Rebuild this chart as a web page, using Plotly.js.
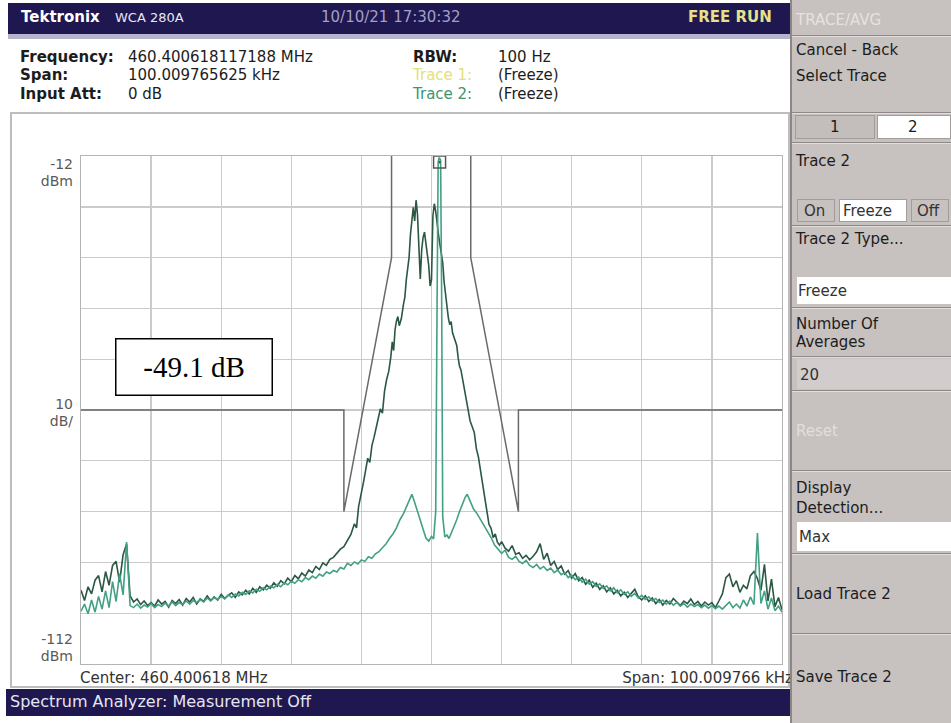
<!DOCTYPE html>
<html>
<head>
<meta charset="utf-8">
<script src="https://cdn.plot.ly/plotly-3.0.1.min.js"></script>
<style>
  html,body{margin:0;padding:0;background:#fff;}
  #wrap{position:relative;width:951px;height:723px;overflow:hidden;background:#fff;}
  .t{position:absolute;white-space:nowrap;font-family:'DejaVu Sans',sans-serif;font-size:15px;line-height:16px;color:#1c1c1c;}
  .b{font-weight:bold;}
  .box{position:absolute;box-sizing:border-box;}
  .sep{position:absolute;left:792px;width:159px;height:2px;border-top:1px solid #8e8888;border-bottom:1px solid #e2dede;box-sizing:border-box;}
  #plot{position:absolute;left:0;top:0;width:951px;height:723px;}
  .ax{position:absolute;right:878px;text-align:right;font-family:'DejaVu Sans',sans-serif;font-size:14px;line-height:15px;color:#5a5a5a;white-space:nowrap;}
</style>
</head>
<body>
<div id="wrap">
  <!-- header -->
  <div class="box" style="left:8px;top:3px;width:782px;height:31px;background:#1e1750;"></div>
  <div class="box" style="left:8px;top:34px;width:782px;height:5px;background:#b6b4ca;"></div>
  <div class="t b" style="left:21px;top:9px;color:#ffffff;font-size:15px;">Tektronix</div>
  <div class="t" style="left:115px;top:10px;color:#e8e8f4;font-size:13px;">WCA 280A</div>
  <div class="t" style="left:321px;top:9px;color:#a59fc6;">10/10/21 17:30:32</div>
  <div class="t b" style="left:688px;top:9px;color:#e6e28a;font-size:15px;">FREE RUN</div>

  <!-- info -->
  <div class="t b" style="left:20px;top:49px;">Frequency:</div>
  <div class="t" style="left:128px;top:49px;">460.400618117188 MHz</div>
  <div class="t b" style="left:20px;top:67px;">Span:</div>
  <div class="t" style="left:128px;top:67px;">100.009765625 kHz</div>
  <div class="t b" style="left:20px;top:86px;">Input Att:</div>
  <div class="t" style="left:128px;top:86px;">0 dB</div>
  <div class="t b" style="left:413px;top:49px;">RBW:</div>
  <div class="t" style="left:498px;top:49px;">100 Hz</div>
  <div class="t" style="left:413px;top:67px;color:#e4e07a;">Trace 1:</div>
  <div class="t" style="left:498px;top:67px;">(Freeze)</div>
  <div class="t" style="left:413px;top:86px;color:#3d9470;">Trace 2:</div>
  <div class="t" style="left:498px;top:86px;">(Freeze)</div>

  <!-- plot frame -->
  <div class="box" style="left:10px;top:112px;width:780px;height:576px;border:2px solid #bdbdbd;"></div>

  <!-- axis labels -->
  <div class="ax" style="top:157px;">-12</div>
  <div class="ax" style="top:174px;">dBm</div>
  <div class="ax" style="top:397px;">10</div>
  <div class="ax" style="top:414px;">dB/</div>
  <div class="ax" style="top:632px;">-112</div>
  <div class="ax" style="top:649px;">dBm</div>

  <div class="t" style="left:80px;top:670px;color:#333;">Center: 460.400618 MHz</div>
  <div class="t" style="right:158px;top:670px;color:#333;">Span: 100.009766 kHz</div>

  <!-- footer -->
  <div class="box" style="left:6px;top:689px;width:784px;height:27px;background:#1e1750;"></div>
  <div class="t" style="left:10px;top:694px;color:#e6e6f2;font-size:16px;">Spectrum Analyzer: Measurement Off</div>

  <!-- side panel -->
  <div class="box" style="left:790px;top:0px;width:161px;height:723px;background:#c7c1c0;border-left:2px solid #8c8686;"></div>
  <div class="t" style="left:796px;top:12px;color:#e6e1e1;">TRACE/AVG</div>
  <div class="sep" style="top:35px;"></div>
  <div class="t" style="left:796px;top:42px;">Cancel - Back</div>
  <div class="t" style="left:796px;top:68px;">Select Trace</div>
  <div class="sep" style="top:112px;"></div>
  <div class="box" style="left:795px;top:115px;width:80px;height:24px;background:#c3bdbc;border:1px solid #a29c9c;"></div>
  <div class="box" style="left:877px;top:115px;width:74px;height:24px;background:#ffffff;border:1px solid #a29c9c;"></div>
  <div class="t" style="left:830px;top:119px;">1</div>
  <div class="t" style="left:908px;top:119px;">2</div>
  <div class="sep" style="top:142px;"></div>
  <div class="t" style="left:796px;top:153px;">Trace 2</div>
  <div class="box" style="left:797px;top:199px;width:38px;height:23px;border:1px solid #a29c9c;"></div>
  <div class="box" style="left:839px;top:199px;width:68px;height:23px;background:#ffffff;border:1px solid #a29c9c;"></div>
  <div class="box" style="left:911px;top:199px;width:38px;height:23px;border:1px solid #a29c9c;"></div>
  <div class="t" style="left:804px;top:203px;color:#333;">On</div>
  <div class="t" style="left:843px;top:203px;color:#333;">Freeze</div>
  <div class="t" style="left:917px;top:203px;color:#333;">Off</div>
  <div class="sep" style="top:225px;"></div>
  <div class="t" style="left:796px;top:231px;">Trace 2 Type...</div>
  <div class="box" style="left:797px;top:277px;width:154px;height:27px;background:#ffffff;"></div>
  <div class="t" style="left:798px;top:283px;color:#333;">Freeze</div>
  <div class="sep" style="top:307px;"></div>
  <div class="t" style="left:796px;top:316px;">Number Of</div>
  <div class="t" style="left:796px;top:334px;">Averages</div>
  <div class="sep" style="top:356px;"></div>
  <div class="box" style="left:797px;top:359px;width:154px;height:30px;background:#d2cdcc;"></div>
  <div class="t" style="left:800px;top:367px;color:#333;">20</div>
  <div class="sep" style="top:390px;"></div>
  <div class="t" style="left:796px;top:423px;color:#e2dede;">Reset</div>
  <div class="sep" style="top:470px;"></div>
  <div class="t" style="left:796px;top:480px;">Display</div>
  <div class="t" style="left:796px;top:500px;">Detection...</div>
  <div class="box" style="left:797px;top:522px;width:154px;height:29px;background:#ffffff;"></div>
  <div class="t" style="left:799px;top:529px;color:#333;">Max</div>
  <div class="sep" style="top:553px;"></div>
  <div class="t" style="left:796px;top:586px;">Load Trace 2</div>
  <div class="sep" style="top:633px;"></div>
  <div class="t" style="left:796px;top:669px;">Save Trace 2</div>

  <div id="plot"></div>
</div>
<script>
// ---- data (frequency offset from 460.400618 MHz centre, kHz; level dBm) ----
const gridFreqTicks = [-50, -40, -30, -20, -10, 0, 10, 20, 30, 40, 50];
const levelTicks = [-112, -102, -92, -82, -72, -62, -52, -42, -32, -22, -12];

const trace1Freq = [
 -50,-49.5,-49,-48.5,-48,-47.5,-47,-46.5,-46,-45.5,-45,-44.5,-44,-43.5,-43,-42.5,-42,-41.5,-41,-40.5,
 -40,-39.5,-39,-38.5,-38,-37.5,-37,-36.5,-36,-35.5,-35,-34.5,-34,-33.5,-33,-32.5,-32,-31.5,-31,-30.5,
 -30,-29.5,-29,-28.5,-28,-27.5,-27,-26.5,-26,-25.5,-25,-24.5,-24,-23.5,-23,-22.5,-22,-21.5,-21,-20.5,
 -20,-19.5,-19,-18.5,-18,-17.5,-17,-16.5,-16,-15.5,-15,-14.5,
 -14,-13.5,-13,-12.5,-12,-11.5,-11,-10.7,-10.4,-10,-9.7,-9.4,-9.1,-8.8,-8.5,-8.2,-7.9,-7.6,-7.3,-7,
 -6.7,-6.4,-6.1,-5.8,-5.6,-5.4,-5.2,-5,-4.8,-4.6,-4.3,-4,-3.8,-3.6,-3.4,-3.2,-3,-2.8,-2.6,-2.4,
 -2.2,-2,-1.8,-1.6,-1.4,-1.2,-1,-0.8,-0.6,-0.4,-0.2,0,0.2,0.4,0.6,0.8,1,1.2,1.4,1.6,
 1.8,2,2.2,2.4,2.6,2.8,3,3.2,3.4,3.6,3.8,4,4.2,4.4,4.6,4.8,5,5.2,5.5,5.8,
 6.1,6.4,6.7,7,7.3,7.6,7.9,8.2,8.5,8.8,9.1,9.4,9.7,10,10.5,11,11.5,12,12.5,13,13.5,14,
 14.5,15,15.5,16,16.5,17,17.5,18,18.5,19,19.5,20,20.5,21,21.5,22,22.5,23,23.5,24,
 24.5,25,25.5,26,26.5,27,27.5,28,28.5,29,29.5,30,30.5,31,31.5,32,32.5,33,33.5,34,
 34.5,35,35.5,36,36.5,37,37.5,38,38.5,39,39.5,40,40.5,41,41.5,42,42.5,43,43.5,44,
 44.5,45,45.5,46,46.5,47,47.5,48,48.5,49,49.5,50];
const trace1Level = [
 -97.5,-99.5,-96.8,-98.2,-95.5,-94.6,-97.8,-93.8,-96.5,-92.6,-91.8,-95.9,-90.5,-88.4,-98.6,-99.8,-99.2,-100.3,-99.6,-100.5,
 -99.9,-100.6,-99.4,-100.2,-99.7,-100.8,-99.5,-100.1,-99.3,-100.4,-99.1,-99.8,-98.9,-100.2,-99.2,-99.7,-98.6,-99.5,-98.8,-99.4,
 -98.3,-99.1,-98.5,-98.0,-98.9,-97.8,-98.4,-97.5,-98.2,-97.1,-97.9,-96.8,-97.4,-96.5,-97.1,-96.0,-96.7,-95.6,-96.2,-95.1,
 -95.8,-94.6,-95.2,-94.1,-94.7,-93.5,-94.0,-92.8,-93.4,-92.1,-92.6,-91.4,
 -91.0,-90.2,-89.4,-88.9,-87.8,-86.5,-84.4,-85.2,-81.0,-78.6,-76.2,-73.9,-71.5,-72.3,-69.0,-67.4,-65.6,-63.8,-61.8,-62.6,
 -58.3,-56.0,-54.4,-51.5,-48.6,-50.3,-46.2,-44.5,-43.6,-45.4,-44.0,-41.2,-39.8,-36.4,-34.2,-32.0,-27.4,-24.0,-22.1,-24.8,
 -20.7,-23.5,-28.9,-36.2,-30.5,-28.0,-27.0,-29.6,-31.8,-33.5,-37.6,-36.4,-23.8,-21.4,-22.9,-25.8,-27.5,-29.4,-31.2,-33.0,
 -36.8,-39.6,-41.0,-43.8,-45.2,-44.6,-46.8,-47.5,-48.6,-49.3,-51.7,-53.4,-54.1,-55.8,-57.0,-58.6,-60.2,-61.8,-64.1,-65.5,
 -66.4,-69.6,-71.3,-74.0,-76.8,-79.4,-81.9,-84.5,-85.3,-87.1,-86.4,-88.0,-88.6,-87.9,-89.2,-89.8,-88.7,-90.4,-90.1,-91.2,-90.6,-91.5,
 -90.8,-89.9,-88.3,-91.4,-90.2,-92.6,-91.8,-93.4,-92.7,-94.3,-93.6,-95.1,-94.2,-95.6,-95.0,-96.3,-95.5,-96.9,-96.1,-97.3,
 -96.6,-97.8,-97.0,-98.2,-97.5,-98.6,-97.9,-98.9,-98.1,-97.3,-98.8,-99.4,-98.6,-99.7,-99.0,-100.1,-99.3,-100.4,-99.5,-100.2,
 -99.1,-99.8,-100.5,-99.6,-100.1,-99.2,-100.3,-99.7,-100.6,-99.8,-100.4,-99.9,-100.9,-99.6,-98.2,-95.0,-94.3,-96.8,-95.6,-97.9,
 -96.5,-97.2,-94.6,-93.8,-95.2,-97.5,-92.4,-99.6,-95.3,-100.7,-98.9,-101.3];

const trace2Freq = [
 -50,-49.5,-49,-48.5,-48,-47.5,-47,-46.5,-46,-45.5,-45,-44.5,-44,-43.5,-43,-42.5,-42,-41.5,-41,-40.5,
 -40,-39.5,-39,-38.5,-38,-37.5,-37,-36.5,-36,-35.5,-35,-34.5,-34,-33.5,-33,-32.5,-32,-31.5,-31,-30.5,
 -30,-29.5,-29,-28.5,-28,-27.5,-27,-26.5,-26,-25.5,-25,-24.5,-24,-23.5,-23,-22.5,-22,-21.5,-21,-20.5,
 -20,-19.5,-19,-18.5,-18,-17.5,-17,-16.5,-16,-15.5,-15,-14.5,
 -14,-13.5,-13,-12.5,-12,-11.5,-11,-10.5,-10,-9.5,-9,-8.5,-8,-7.5,-7,-6.5,-6,-5.5,-5,-4.5,
 -4,-3.5,-3.2,-2.8,-2.4,-2,-1.6,-1.2,-0.8,-0.4,0,0.3,0.6,0.8,0.95,1.1,1.3,1.45,1.6,1.9,
 2.2,2.5,2.9,3.2,3.6,4,4.4,4.8,5.1,5.5,6,6.5,7,7.5,8,8.5,9,9.5,10,10.5,
 11,11.5,12,12.5,13,13.5,14,
 14.5,15,15.5,16,16.5,17,17.5,18,18.5,19,19.5,20,20.5,21,21.5,22,22.5,23,23.5,24,
 24.5,25,25.5,26,26.5,27,27.5,28,28.5,29,29.5,30,30.5,31,31.5,32,32.5,33,33.5,34,
 34.5,35,35.5,36,36.5,37,37.5,38,38.5,39,39.5,40,40.5,41,41.5,42,42.5,43,43.5,44,
 44.5,45,45.5,46,46.5,47,47.5,48,48.5,49,49.5,50];
const trace2Level = [
 -101.6,-100.2,-102.1,-99.4,-101.8,-98.7,-101.2,-97.6,-100.9,-95.8,-99.7,-94.2,-98.4,-88.0,-100.5,-100.9,-100.2,-101.0,-100.4,-100.8,
 -100.1,-100.9,-100.3,-100.7,-100.0,-100.6,-99.8,-100.5,-99.9,-100.3,-99.6,-100.2,-99.5,-99.9,-99.3,-99.8,-99.0,-99.6,-98.9,-99.3,
 -98.7,-99.2,-98.4,-98.9,-98.2,-98.6,-97.9,-98.3,-97.6,-98.0,-97.3,-97.7,-97.0,-97.4,-96.7,-97.0,-96.3,-96.8,-96.0,-96.4,
 -95.7,-96.1,-95.4,-95.8,-95.0,-95.4,-94.7,-95.1,-94.3,-94.7,-93.9,-94.2,
 -93.6,-93.9,-93.0,-93.3,-92.2,-92.6,-91.9,-92.3,-91.5,-91.8,-90.9,-91.2,-90.3,-89.9,-89.1,-88.4,-87.3,-86.4,-85.2,-83.6,
 -82.4,-80.8,-79.6,-78.6,-80.2,-82.0,-83.4,-85.6,-87.2,-87.8,-86.9,-87.4,-82.0,-40.0,-13.2,-12.3,-12.8,-40.0,-83.0,-87.0,
 -86.6,-87.3,-86.0,-84.9,-83.6,-82.0,-80.6,-79.2,-78.6,-80.0,-81.5,-82.4,-83.6,-84.8,-85.7,-87.1,-88.6,-89.5,-90.2,-89.6,
 -91.0,-91.4,-90.8,-91.8,-92.2,-91.6,-92.6,
 -93.0,-92.4,-93.3,-92.8,-93.6,-93.1,-94.0,-93.5,-94.4,-94.0,-95.0,-94.5,-95.4,-94.9,-95.9,-95.3,-96.3,-95.8,-96.7,-96.2,
 -97.1,-96.6,-97.6,-97.0,-98.0,-97.4,-98.3,-97.8,-98.7,-98.1,-99.0,-98.5,-99.3,-98.8,-99.6,-99.1,-99.9,-99.4,-100.2,-99.6,
 -100.4,-99.9,-100.6,-100.1,-100.8,-100.2,-100.7,-100.3,-100.9,-100.4,-101.0,-100.5,-101.1,-100.6,-101.2,-100.4,-99.8,-100.9,-100.2,-101.0,
 -99.4,-100.6,-98.8,-100.3,-86.2,-100.1,-97.6,-101.2,-99.0,-101.5,-100.6,-101.8];

const maskFreq = [-50.005, -12.5, -12.5, -5.7, -5.7, 5.6, 5.6, 12.4, 12.4, 50.005];
const maskLevel = [-62, -62, -82, -32, -5, -5, -32, -82, -62, -62];

const markerFreq = [1.15];
const markerLevel = [-13.2];

const span = [-50.0049, 50.0049];
const levelRange = [-112, -12];

const traces = [
  {x: maskFreq, y: maskLevel, mode: 'lines', line: {color: '#6a6a6a', width: 1.5}, hoverinfo: 'skip'},
  {x: trace1Freq, y: trace1Level, mode: 'lines', line: {color: '#2a5842', width: 1.6}},
  {x: trace2Freq, y: trace2Level, mode: 'lines', line: {color: '#43a085', width: 1.6}},
  {x: markerFreq, y: markerLevel, mode: 'markers', cliponaxis: false,
   marker: {symbol: 'square-open-dot', size: 12, color: '#555555', line: {width: 1.5, color: '#555555'}}}
];

const layout = {
  width: 951, height: 723,
  margin: {l: 81, r: 169, t: 156, b: 59, pad: 0},
  paper_bgcolor: 'rgba(0,0,0,0)',
  plot_bgcolor: '#ffffff',
  showlegend: false,
  xaxis: {range: span, tickmode: 'array', tickvals: gridFreqTicks, showticklabels: false, ticks: '',
          showgrid: true, gridcolor: '#cbcbcb', gridwidth: 1.4, zeroline: false,
          showline: true, mirror: true, linecolor: '#b4b4b4', linewidth: 1.4, fixedrange: true},
  yaxis: {range: levelRange, tickmode: 'array', tickvals: levelTicks, showticklabels: false, ticks: '',
          showgrid: true, gridcolor: '#cbcbcb', gridwidth: 1.4, zeroline: false,
          showline: true, mirror: true, linecolor: '#b4b4b4', linewidth: 1.4, fixedrange: true},
  annotations: [{
    xref: 'paper', yref: 'paper', x: 0.161, y: 0.585, xanchor: 'center', yanchor: 'middle',
    text: '-49.1 dB', showarrow: false, width: 155, height: 55,
    font: {family: 'Liberation Serif, Times New Roman, serif', size: 29, color: '#000000'},
    bgcolor: '#ffffff', bordercolor: '#000000', borderwidth: 1.5, borderpad: 0
  }]
};

Plotly.newPlot('plot', traces, layout, {staticPlot: true, displayModeBar: false});
</script>
</body>
</html>
